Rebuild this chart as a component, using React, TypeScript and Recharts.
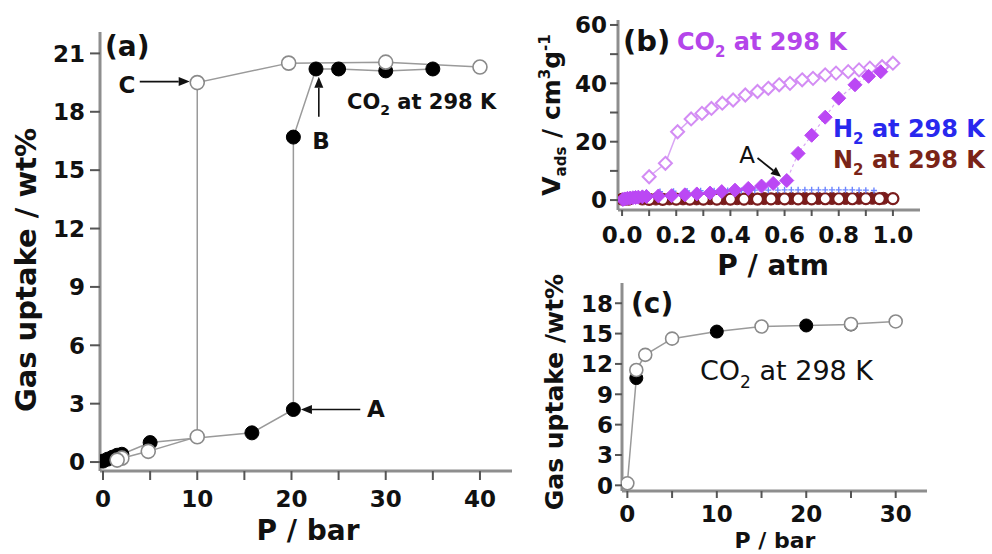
import React from 'react';
import { ScatterChart, Scatter, XAxis, YAxis, ReferenceLine } from 'recharts';

const FONT = '"DejaVu Sans", "Liberation Sans", Arial, sans-serif';

// ---------- Panel (a): CO2 at 298 K, gas uptake (wt%) vs P (bar) ----------
const aAdsorption: [number, number][] = [
  [0, 0.05], [0.5, 0.15], [1, 0.25], [1.5, 0.35], [2, 0.4], [5, 1.0], [15.8, 1.5],
  [20.2, 2.7], [20.2, 16.7], [22.6, 20.2], [25, 20.2], [30, 20.1], [35, 20.2],
];
const aDesorption: [number, number][] = [
  [40, 20.3], [30, 20.55], [19.7, 20.5], [10, 19.5], [10, 1.3], [4.8, 0.55], [2, 0.2], [1.5, 0.1],
];
const aXTicks = [0, 5, 10, 15, 20, 25, 30, 35, 40];
const aXLabels = ['0', '10', '20', '30', '40'];
const aYTicks = [0, 3, 6, 9, 12, 15, 18, 21];
const aYLabels = ['0', '3', '6', '9', '12', '15', '18', '21'];

// ---------- Panel (b): V_ads (cm3/g) vs P (atm) ----------
const bCO2Desorption: [number, number][] = [
  [1.0, 46.9], [0.96, 45.7], [0.915, 45.2], [0.875, 44.6], [0.835, 44.0], [0.79, 43.5],
  [0.75, 42.9], [0.705, 41.7], [0.665, 41.2], [0.62, 40.0], [0.58, 39.5], [0.54, 38.3],
  [0.5, 37.2], [0.455, 36.0], [0.41, 34.3], [0.37, 33.2], [0.33, 31.4], [0.295, 29.7],
  [0.255, 27.8], [0.205, 23.4], [0.16, 12.6], [0.1, 8.0],
];
const bCO2Adsorption: [number, number][] = [
  [0.003, 0.2], [0.01, 0.4], [0.02, 0.6], [0.03, 0.7], [0.04, 0.8], [0.05, 0.9], [0.06, 1.0],
  [0.075, 1.1], [0.09, 1.2], [0.134, 1.4], [0.183, 1.5], [0.232, 1.8], [0.276, 2.1],
  [0.325, 2.4], [0.368, 2.9], [0.417, 3.4], [0.466, 4.0], [0.515, 4.8], [0.558, 5.7],
  [0.608, 6.7], [0.65, 16.0], [0.7, 22.2], [0.75, 28.4], [0.8, 34.9], [0.86, 39.5],
  [0.91, 42.4], [0.955, 44.0],
];
const bH2: [number, number][] = [
  [0.02, 1.2], [0.05, 2.0], [0.09, 2.6], [0.14, 2.9], [0.19, 3.0], [0.24, 3.1], [0.29, 3.2],
  [0.34, 3.2], [0.39, 3.3], [0.44, 3.3], [0.49, 3.4], [0.54, 3.4], [0.575, 3.4], [0.6, 3.5],
  [0.625, 3.5], [0.65, 3.5], [0.675, 3.5], [0.7, 3.5], [0.725, 3.5], [0.75, 3.5], [0.775, 3.5],
  [0.8, 3.5], [0.825, 3.5], [0.85, 3.5], [0.875, 3.4], [0.9, 3.4], [0.93, 3.3],
];
const bN2Adsorption: [number, number][] = [
  [0.0, 0.3], [0.012, 0.3], [0.025, 0.3], [0.075, 0.35], [0.125, 0.35], [0.175, 0.4], [0.225, 0.4],
  [0.275, 0.4], [0.325, 0.45], [0.375, 0.45], [0.425, 0.45], [0.475, 0.5], [0.525, 0.5],
  [0.575, 0.5], [0.625, 0.5], [0.675, 0.55], [0.725, 0.55], [0.775, 0.55], [0.825, 0.55],
  [0.875, 0.6], [0.925, 0.6], [0.965, 0.6],
];
const bN2Desorption: [number, number][] = [
  [1.0, 0.5], [0.95, 0.5], [0.9, 0.5], [0.85, 0.45], [0.8, 0.45], [0.75, 0.45], [0.7, 0.4],
  [0.65, 0.4], [0.6, 0.4], [0.55, 0.4], [0.5, 0.35], [0.45, 0.35], [0.4, 0.35], [0.35, 0.3],
  [0.3, 0.3], [0.25, 0.3], [0.2, 0.3], [0.15, 0.25], [0.1, 0.25],
];
const bXTicks = [0, 0.1, 0.2, 0.3, 0.4, 0.5, 0.6, 0.7, 0.8, 0.9, 1.0];
const bXLabels = ['0.0', '0.2', '0.4', '0.6', '0.8', '1.0'];
const bYTicks = [0, 10, 20, 30, 40, 50, 60];
const bYLabels = ['0', '20', '40', '60'];

// ---------- Panel (c): CO2 at 298 K, gas uptake (wt%) vs P (bar) ----------
const cFilled: [number, number][] = [[1, 10.6], [10, 15.2], [20, 15.8], [25, 15.9]];
const cOpen: [number, number][] = [[0, 0.2], [1, 11.4], [2, 12.9], [5, 14.5], [15, 15.7], [25, 15.95], [30, 16.2]];
const cXTicks = [0, 5, 10, 15, 20, 25, 30];
const cXLabels = ['0', '10', '20', '30'];
const cYTicks = [0, 3, 6, 9, 12, 15, 18];
const cYLabels = ['0', '3', '6', '9', '12', '15', '18'];

const pts = (arr: [number, number][]) => arr.map(([x, y]) => ({ x, y }));

const AXIS = { stroke: '#8e8e8e', strokeWidth: 3 };
const TICKLINE = { stroke: '#555', strokeWidth: 2 };

// custom tick: draws only the labelled ticks' text (tick lines are drawn by the axis)
const xTick = (labels: string[], size: number, digits: number) => (p: any) => {
  const s = digits > 0 ? Number(p.payload.value).toFixed(digits) : String(p.payload.value);
  if (!labels.includes(s)) return <g />;
  return (
    <text x={p.x} y={p.y + 0.71 * size} textAnchor="middle" fontSize={size} fontWeight={700} fill="#111" fontFamily={FONT}>{s}</text>
  );
};
const yTick = (labels: string[], size: number) => (p: any) => {
  const s = String(p.payload.value);
  if (!labels.includes(s)) return <g />;
  return (
    <text x={p.x} y={p.y + 0.36 * size} textAnchor="end" fontSize={size} fontWeight={700} fill="#111" fontFamily={FONT}>{s}</text>
  );
};

const circle = (fill: string, stroke: string, r: number, sw: number) => (p: any) => (
  <circle cx={p.cx} cy={p.cy} r={r} fill={fill} stroke={stroke} strokeWidth={sw} />
);
const diamond = (fill: string, stroke: string, r: number, sw: number) => (p: any) => (
  <path d={`M${p.cx},${p.cy - r}L${p.cx + r},${p.cy}L${p.cx},${p.cy + r}L${p.cx - r},${p.cy}Z`} fill={fill} stroke={stroke} strokeWidth={sw} />
);
const plus = (color: string, r: number) => (p: any) => (
  <path d={`M${p.cx - r},${p.cy}H${p.cx + r}M${p.cx},${p.cy - r}V${p.cy + r}`} stroke={color} strokeWidth={1.4} fill="none" />
);
const none = () => <g />;

const arrow = (color: string, head = 11, half = 4.5, sw = 1.6) => (p: any) => {
  const { x1, y1, x2, y2 } = p;
  const a = Math.atan2(y2 - y1, x2 - x1);
  const bx = x2 - head * Math.cos(a);
  const by = y2 - head * Math.sin(a);
  const nx = -Math.sin(a) * half;
  const ny = Math.cos(a) * half;
  return (
    <g>
      <line x1={x1} y1={y1} x2={bx} y2={by} stroke={color} strokeWidth={sw} />
      <polygon points={`${x2},${y2} ${bx + nx},${by + ny} ${bx - nx},${by - ny}`} fill={color} />
    </g>
  );
};

const LINE_GREY = { stroke: '#9a9a9a', strokeWidth: 1.5 };

function PanelA() {
  return (
    <ScatterChart width={540} height={554} margin={{ top: 32, right: 28, bottom: 33, left: 0 }}>
      <XAxis type="number" dataKey="x" domain={[-0.32, 43.4]} allowDataOverflow ticks={aXTicks} interval={0}
        axisLine={AXIS} tickLine={TICKLINE} tickSize={9} tickMargin={11} height={50} tick={xTick(aXLabels, 23, 0)} />
      <YAxis type="number" dataKey="y" domain={[-0.46, 22.1]} allowDataOverflow ticks={aYTicks} interval={0}
        axisLine={AXIS} tickLine={TICKLINE} tickSize={10} tickMargin={5} width={100} tick={yTick(aYLabels, 23)} />
      <Scatter data={pts(aAdsorption)} line={LINE_GREY} lineType="joint" shape={none} isAnimationActive={false} />
      <Scatter data={pts(aDesorption)} line={LINE_GREY} lineType="joint" shape={none} isAnimationActive={false} />
      <Scatter data={pts(aAdsorption)} shape={circle('#000', '#000', 7, 1)} isAnimationActive={false} />
      <Scatter data={pts(aDesorption)} shape={circle('#fff', '#8a8a8a', 7, 1.6)} isAnimationActive={false} />
      <ReferenceLine segment={[{ x: 3.9, y: 19.55 }, { x: 9.2, y: 19.55 }]} shape={arrow('#111')} />
      <ReferenceLine segment={[{ x: 22.9, y: 17.75 }, { x: 22.9, y: 19.8 }]} shape={arrow('#111')} />
      <ReferenceLine segment={[{ x: 27.3, y: 2.7 }, { x: 21.0, y: 2.7 }]} shape={arrow('#111')} />
    </ScatterChart>
  );
}

function PanelB() {
  return (
    <ScatterChart width={452} height={260} margin={{ top: 20, right: 72, bottom: 10, left: 0 }}>
      <XAxis type="number" dataKey="x" domain={[-0.015, 1.1]} allowDataOverflow ticks={bXTicks} interval={0}
        axisLine={AXIS} tickLine={TICKLINE} tickSize={6} tickMargin={11} height={40} tick={xTick(bXLabels, 23, 1)} />
      <YAxis type="number" dataKey="y" domain={[-3.4, 61.7]} allowDataOverflow ticks={bYTicks} interval={0}
        axisLine={AXIS} tickLine={TICKLINE} tickSize={8} tickMargin={3} width={78} tick={yTick(bYLabels, 23)} />
      <Scatter data={pts(bCO2Desorption)} line={{ stroke: '#d9a6f4', strokeWidth: 1.5 }} lineType="joint" shape={none} isAnimationActive={false} />
      <Scatter data={pts(bCO2Adsorption)} line={{ stroke: '#d9a6f4', strokeWidth: 1.2, strokeDasharray: '3 3' }} lineType="joint" shape={none} isAnimationActive={false} />
      <Scatter data={pts(bN2Adsorption)} shape={circle('#7a1c1c', '#7a1c1c', 6, 1)} isAnimationActive={false} />
      <Scatter data={pts(bN2Desorption)} shape={circle('#fff', '#7a1c1c', 5.5, 2.2)} isAnimationActive={false} />
      <Scatter data={pts(bH2)} shape={plus('#6d86ff', 3)} isAnimationActive={false} />
      <Scatter data={pts(bCO2Desorption)} shape={diamond('#fff', '#d38cf4', 6.5, 2)} isAnimationActive={false} />
      <Scatter data={pts(bCO2Adsorption)} shape={diamond('#bb48f4', '#bb48f4', 7, 1)} isAnimationActive={false} />
      <ReferenceLine segment={[{ x: 0.5, y: 14.4 }, { x: 0.587, y: 8.0 }]} shape={arrow('#111', 10, 4.5, 1.8)} />
    </ScatterChart>
  );
}

function PanelC() {
  const lineData = [...pts(cFilled), ...pts(cOpen)].sort((p, q) => p.x - q.x || p.y - q.y);
  return (
    <ScatterChart width={452} height={284} margin={{ top: 13, right: 65, bottom: 23, left: 0 }}>
      <XAxis type="number" dataKey="x" domain={[-0.6, 33.5]} allowDataOverflow ticks={cXTicks} interval={0}
        axisLine={AXIS} tickLine={TICKLINE} tickSize={7} tickMargin={8} height={40} tick={xTick(cXLabels, 23, 0)} />
      <YAxis type="number" dataKey="y" domain={[-0.56, 20]} allowDataOverflow ticks={cYTicks} interval={0}
        axisLine={AXIS} tickLine={TICKLINE} tickSize={7} tickMargin={2} width={82} tick={yTick(cYLabels, 23)} />
      <Scatter data={lineData} line={LINE_GREY} lineType="joint" shape={none} isAnimationActive={false} />
      <Scatter data={pts(cFilled)} shape={circle('#000', '#000', 6.5, 1)} isAnimationActive={false} />
      <Scatter data={pts(cOpen)} shape={circle('#fff', '#8a8a8a', 6.5, 1.6)} isAnimationActive={false} />
    </ScatterChart>
  );
}

// text helper: y is the vertical centre of capitals
function T(props: { x: number; y: number; size: number; weight?: number; anchor?: 'start' | 'middle' | 'end'; color?: string; rotate?: boolean; children: React.ReactNode }) {
  const { x, y, size, weight = 700, anchor = 'start', color = '#111', rotate = false, children } = props;
  if (rotate) {
    const bx = x + 0.3645 * size;
    return (
      <text x={bx} y={y} transform={`rotate(-90 ${bx} ${y})`} fontSize={size} fontWeight={weight} fill={color} textAnchor={anchor} fontFamily={FONT}>
        {children}
      </text>
    );
  }
  return (
    <text x={x} y={y + 0.3645 * size} fontSize={size} fontWeight={weight} fill={color} textAnchor={anchor} fontFamily={FONT}>
      {children}
    </text>
  );
}

// "X<sub>2</sub> at 298 K" label pieces
const gasLabel = (gas: string, subSize: number, d: number) => [
  <tspan key="g">{gas}</tspan>,
  <tspan key="s" dy={d} fontSize={subSize}>2</tspan>,
  <tspan key="r" dy={-d}> at 298 K</tspan>,
];

function Overlay() {
  return (
    <svg width={992} height={554} style={{ position: 'absolute', left: 0, top: 0, pointerEvents: 'none' }}>
      {/* panel a */}
      <T x={105} y={46} size={28}>(a)</T>
      <T x={127} y={85} size={23} anchor="middle">C</T>
      <T x={321} y={141} size={23} anchor="middle">B</T>
      <T x={376} y={409} size={23} anchor="middle">A</T>
      <T x={347} y={101} size={21}>{gasLabel('CO', 14, 6)}</T>
      <T x={25.5} y={270} size={29} anchor="middle" rotate>Gas uptake / wt%</T>
      <T x={308} y={530} size={28} anchor="middle">P / bar</T>
      {/* panel b */}
      <T x={623} y={40} size={29}>(b)</T>
      <T x={677} y={41.5} size={24} color="#b445ea">{gasLabel('CO', 15, 7)}</T>
      <T x={833} y={128} size={24} color="#2828ee">{gasLabel('H', 15, 7)}</T>
      <T x={833} y={159.5} size={24} color="#7a2418">{gasLabel('N', 15, 7)}</T>
      <T x={747} y={155} size={23} weight={400} anchor="middle">A</T>
      <text x={560} y={115} transform="rotate(-90 560 115)" fontSize={25} fontWeight={700} fill="#111" textAnchor="middle" fontFamily={FONT}>
        <tspan>V</tspan><tspan dy={6} fontSize={15}>ads</tspan><tspan dy={-6}> / cm</tspan><tspan dy={-10} fontSize={15}>3</tspan><tspan dy={10}>g</tspan><tspan dy={-10} fontSize={15}>-1</tspan>
      </text>
      <T x={773} y={265} size={28} anchor="middle">P / atm</T>
      {/* panel c */}
      <T x={631} y={303} size={28}>(c)</T>
      <T x={700} y={370} size={27} weight={400}>{gasLabel('CO', 17, 8)}</T>
      <T x={554} y={392} size={25} anchor="middle" rotate>Gas uptake /wt%</T>
      <T x={775} y={540} size={22} anchor="middle">P / bar</T>
    </svg>
  );
}

export default function App() {
  return (
    <div style={{ position: 'absolute', left: 0, top: 0, width: 992, height: 554, overflow: 'hidden', background: '#fff' }}>
      <div style={{ position: 'absolute', left: 0, top: 0 }}><PanelA /></div>
      <div style={{ position: 'absolute', left: 540, top: 0 }}><PanelB /></div>
      <div style={{ position: 'absolute', left: 540, top: 270 }}><PanelC /></div>
      <Overlay />
    </div>
  );
}
